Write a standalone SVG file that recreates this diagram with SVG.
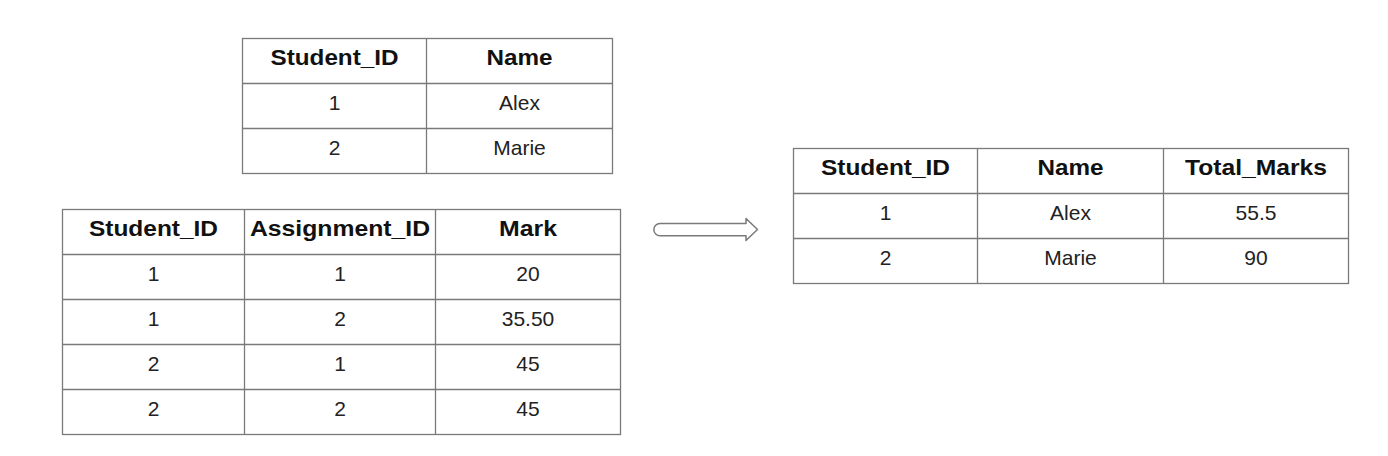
<svg xmlns="http://www.w3.org/2000/svg" width="1388" height="456" viewBox="0 0 1388 456">
<style>
.grid{fill:#fff;stroke:#7a7a7a;stroke-width:1.3}
.ln{stroke:#7a7a7a;stroke-width:1.3}
.h{font-family:"Liberation Sans",Arial,sans-serif;font-weight:bold;font-size:22px;fill:#111;text-anchor:middle}
.t{font-family:"Liberation Sans",Arial,sans-serif;font-size:21px;fill:#222;text-anchor:middle}
.arrow{fill:#fff;stroke:#7a7a7a;stroke-width:1.5;stroke-linejoin:round}
</style>
<rect width="1388" height="456" fill="#fff"/>
<g id="students">
<rect class="grid" x="242.5" y="38.5" width="370" height="135"/>
<line class="ln" x1="426.5" y1="38.5" x2="426.5" y2="173.5"/>
<line class="ln" x1="242.5" y1="83.5" x2="612.5" y2="83.5"/>
<line class="ln" x1="242.5" y1="128.5" x2="612.5" y2="128.5"/>
<text class="h" x="334.5" y="64.5" textLength="128" lengthAdjust="spacingAndGlyphs">Student_ID</text>
<text class="h" x="519.5" y="64.5" textLength="66" lengthAdjust="spacingAndGlyphs">Name</text>
<text class="t" x="334.5" y="110">1</text>
<text class="t" x="519.5" y="110">Alex</text>
<text class="t" x="334.5" y="155">2</text>
<text class="t" x="519.5" y="155">Marie</text>
</g>
<g id="marks">
<rect class="grid" x="62.5" y="209.5" width="558" height="225"/>
<line class="ln" x1="244.5" y1="209.5" x2="244.5" y2="434.5"/>
<line class="ln" x1="435.5" y1="209.5" x2="435.5" y2="434.5"/>
<line class="ln" x1="62.5" y1="254.5" x2="620.5" y2="254.5"/>
<line class="ln" x1="62.5" y1="299.5" x2="620.5" y2="299.5"/>
<line class="ln" x1="62.5" y1="344.5" x2="620.5" y2="344.5"/>
<line class="ln" x1="62.5" y1="389.5" x2="620.5" y2="389.5"/>
<text class="h" x="153.5" y="236" textLength="129" lengthAdjust="spacingAndGlyphs">Student_ID</text>
<text class="h" x="340" y="236" textLength="180" lengthAdjust="spacingAndGlyphs">Assignment_ID</text>
<text class="h" x="528" y="236" textLength="58" lengthAdjust="spacingAndGlyphs">Mark</text>
<text class="t" x="153.5" y="281">1</text>
<text class="t" x="340" y="281">1</text>
<text class="t" x="528" y="281">20</text>
<text class="t" x="153.5" y="326">1</text>
<text class="t" x="340" y="326">2</text>
<text class="t" x="528" y="326">35.50</text>
<text class="t" x="153.5" y="371">2</text>
<text class="t" x="340" y="371">1</text>
<text class="t" x="528" y="371">45</text>
<text class="t" x="153.5" y="416">2</text>
<text class="t" x="340" y="416">2</text>
<text class="t" x="528" y="416">45</text>
</g>
<g id="result">
<rect class="grid" x="793.5" y="148.5" width="555" height="135"/>
<line class="ln" x1="977.5" y1="148.5" x2="977.5" y2="283.5"/>
<line class="ln" x1="1163.5" y1="148.5" x2="1163.5" y2="283.5"/>
<line class="ln" x1="793.5" y1="193.5" x2="1348.5" y2="193.5"/>
<line class="ln" x1="793.5" y1="238.5" x2="1348.5" y2="238.5"/>
<text class="h" x="885.5" y="175" textLength="129" lengthAdjust="spacingAndGlyphs">Student_ID</text>
<text class="h" x="1070.5" y="175" textLength="66" lengthAdjust="spacingAndGlyphs">Name</text>
<text class="h" x="1256" y="175" textLength="142" lengthAdjust="spacingAndGlyphs">Total_Marks</text>
<text class="t" x="885.5" y="220">1</text>
<text class="t" x="1070.5" y="220">Alex</text>
<text class="t" x="1256" y="220">55.5</text>
<text class="t" x="885.5" y="265">2</text>
<text class="t" x="1070.5" y="265">Marie</text>
<text class="t" x="1256" y="265">90</text>
</g>
<g id="connectors">
<path class="arrow" d="M660,223.5 L746,223.5 L746,218.5 L757.5,229.5 L746,240.5 L746,235.8 L660,235.8 A6.15,6.15 0 0 1 660,223.5 Z"/>
</g>
</svg>
